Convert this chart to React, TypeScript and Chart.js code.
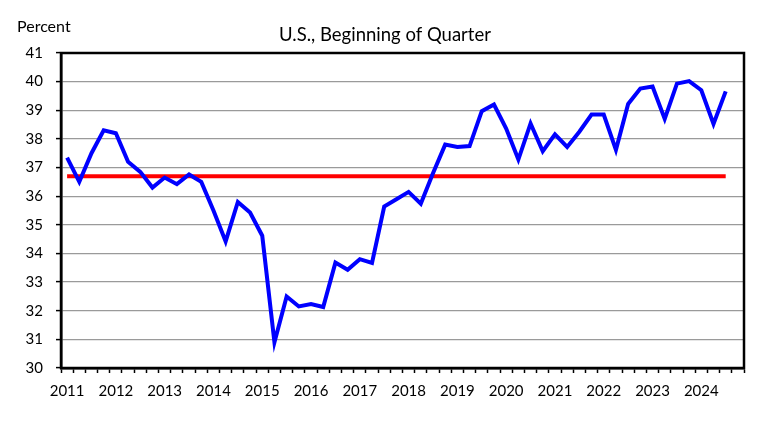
import React, { useEffect, useRef } from "react";
import { Chart, registerables } from "chart.js";

Chart.register(...registerables);

const years: string[] = ["2011", "2012", "2013", "2014", "2015", "2016", "2017", "2018", "2019", "2020", "2021", "2022", "2023", "2024"];
const quarters: string[] = ["Q1", "Q2", "Q3", "Q4"];

// Quarterly values, 2011 Q1 .. 2024 Q3
const shareValues: number[] = [
  37.35, 36.5, 37.5, 38.3,
  38.2, 37.2, 36.85, 36.3,
  36.65, 36.42, 36.76, 36.5,
  35.5, 34.42, 35.8, 35.43,
  34.62, 30.9, 32.5, 32.15,
  32.23, 32.13, 33.68, 33.43,
  33.8, 33.67, 35.64, 35.89,
  36.15, 35.74, 36.8, 37.8,
  37.72, 37.75, 38.97, 39.2,
  38.36, 37.28, 38.54, 37.57,
  38.16, 37.72, 38.25, 38.85,
  38.85, 37.62, 39.22, 39.76,
  39.83, 38.7, 39.93, 40.02,
  39.7, 38.52, 39.66,
];

const averageValue = 36.7;

const titleText = "U.S., Beginning of Quarter";
const yAxisTitle = "Percent";
const yMin = 30;
const yMax = 41;

const categories: string[] = [];
for (const y of years) for (const q of quarters) categories.push(`${y} ${q}`);

const FONT = "Lato, 'Open Sans', sans-serif";

export default function App() {
  const ref = useRef<HTMLCanvasElement | null>(null);

  useEffect(() => {
    if (!ref.current) return;
    const textPlugin = {
      id: "textPlugin",
      afterDraw(chart: any) {
        const ctx = chart.ctx;
        const a = chart.chartArea;
        ctx.save();
        ctx.strokeStyle = "#000";
        ctx.lineWidth = 2.5;
        ctx.strokeRect(a.left, a.top, a.right - a.left, a.bottom - a.top);
        ctx.fillStyle = "#000";
        ctx.font = `18.5px ${FONT}`;
        ctx.textAlign = "center";
        ctx.textBaseline = "middle";
        ctx.fillText(titleText, 385, 35);
        ctx.font = `16px ${FONT}`;
        ctx.textAlign = "left";
        ctx.fillText(yAxisTitle, 17, 27);
        ctx.restore();
      },
    };

    const chart = new Chart(ref.current, {
      type: "line",
      data: {
        labels: categories,
        datasets: [
          {
            label: "Share",
            data: shareValues,
            borderColor: "#0000FF",
            borderWidth: 4,
            pointRadius: 0,
            tension: 0,
            fill: false,
          },
          {
            label: "Average",
            data: [
              { x: categories[0], y: averageValue },
              { x: categories[shareValues.length - 1], y: averageValue },
            ] as any,
            borderColor: "#FF0000",
            borderWidth: 4,
            pointRadius: 0,
            tension: 0,
            fill: false,
          },
        ],
      },
      options: {
        animation: false,
        responsive: false,
        devicePixelRatio: 1,
        layout: { padding: { top: 53, right: 27, left: 0, bottom: 0 } },
        plugins: {
          legend: { display: false },
          title: { display: false },
          tooltip: { enabled: false },
        },
        scales: {
          x: {
            type: "category",
            offset: true,
            grid: {
              offset: true,
              display: true,
              drawOnChartArea: false,
              drawTicks: true,
              tickLength: 5,
              tickColor: "#000",
              tickWidth: 1.5,
            },
            border: { display: true, color: "#000", width: 2.5 },
            ticks: {
              autoSkip: false,
              maxRotation: 0,
              minRotation: 0,
              padding: 9,
              color: "#000",
              font: { family: FONT, size: 15 },
              callback: (_v: any, i: number) => (i % 4 === 0 ? years[i / 4] : ""),
            },
            afterFit: (s: any) => {
              s.height = 55;
            },
          },
          y: {
            min: yMin,
            max: yMax,
            grid: {
              color: "#9A9A9A",
              lineWidth: 1.2,
              drawTicks: true,
              tickLength: 5,
              tickColor: "#000",
              tickWidth: 1.5,
            },
            border: { display: true, color: "#000", width: 2.5 },
            ticks: {
              stepSize: 1,
              padding: 13,
              color: "#000",
              font: { family: FONT, size: 15 },
            },
            afterFit: (s: any) => {
              s.width = 61;
            },
          },
        },
      },
      plugins: [textPlugin],
    });
    return () => chart.destroy();
  }, []);

  return (
    <div style={{ position: "absolute", left: 0, top: 0, width: 771, height: 423, background: "#fff" }}>
      <canvas ref={ref} width={771} height={423} />
    </div>
  );
}
